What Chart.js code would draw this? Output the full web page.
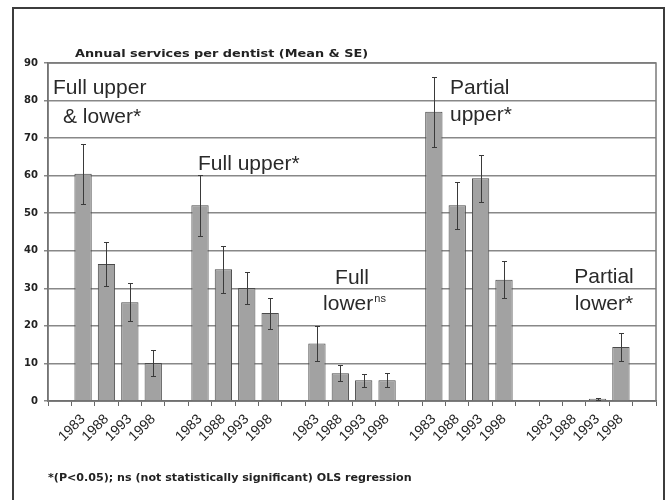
<!DOCTYPE html>
<html><head><meta charset="utf-8">
<script src="https://cdn.jsdelivr.net/npm/chart.js@4/dist/chart.umd.min.js"></script>
<style>
html,body{margin:0;padding:0;background:#fff;}
#wrap{position:relative;width:670px;height:500px;overflow:hidden;}
#frame{position:absolute;left:12px;top:7px;width:653px;height:510px;border:2px solid #3c3c3c;box-sizing:border-box;}
canvas{position:absolute;left:0;top:0;}
</style></head><body>
<div id="wrap"><div id="frame"></div><canvas id="c" width="670" height="500"></canvas></div>
<script>
// ---- data ----
const years = ['1983', '1988', '1993', '1998'];
const groupNames = ['Full upper & lower', 'Full upper', 'Full lower', 'Partial upper', 'Partial lower'];
const fullUpperLowerMean = [60.5, 36.5, 26.3, 10.1];
const fullUpperLowerSE   = [8.0, 5.8, 5.1, 3.4];
const fullUpperMean      = [52.1, 35.1, 30.1, 23.4];
const fullUpperSE        = [8.1, 6.3, 4.2, 4.1];
const fullLowerMean      = [15.3, 7.4, 5.5, 5.5];
const fullLowerSE        = [4.6, 2.2, 1.7, 1.9];
const partialUpperMean   = [77.0, 52.1, 59.3, 32.3];
const partialUpperSE     = [9.3, 6.2, 6.3, 4.9];
const partialLowerMean   = [0, 0, 0.6, 14.4];
const partialLowerSE     = [0, 0, 0.3, 3.7];
const yTickValues = [0, 10, 20, 30, 40, 50, 60, 70, 80, 90];
const chartTitle = 'Annual services per dentist (Mean & SE)';
const footnote = '*(P<0.05); ns (not statistically significant) OLS regression';

// ---- build category table (blank category between groups) ----
const groupMeans = [fullUpperLowerMean, fullUpperMean, fullLowerMean, partialUpperMean, partialLowerMean];
const groupSEs = [fullUpperLowerSE, fullUpperSE, fullLowerSE, partialUpperSE, partialLowerSE];
const labels = [''], means = [null], ses = [null];
groupMeans.forEach((g, gi) => {
  years.forEach((yr, i) => { labels.push(yr); means.push(g[i]); ses.push(groupSEs[gi][i]); });
  labels.push(''); means.push(null); ses.push(null);
});

const errorBars = {
  id: 'errorBars',
  afterDatasetsDraw(chart) {
    const ctx = chart.ctx, meta = chart.getDatasetMeta(0), y = chart.scales.y;
    ctx.save();
    ctx.strokeStyle = '#3a3a3a'; ctx.lineWidth = 1;
    meta.data.forEach((bar, i) => {
      const m = means[i], s = ses[i];
      if (m == null || !s) return;
      const t = Math.round(y.getPixelForValue(m + s)) + 0.5;
      const b = Math.round(y.getPixelForValue(m - s)) + 0.5;
      const x = Math.round(bar.x) + 0.5;
      ctx.beginPath();
      ctx.moveTo(x, t); ctx.lineTo(x, b);
      ctx.moveTo(x - 2.5, t); ctx.lineTo(x + 2.5, t);
      ctx.moveTo(x - 2.5, b); ctx.lineTo(x + 2.5, b);
      ctx.stroke();
    });
    ctx.restore();
  }
};

function stretchedText(ctx, text, x, y, sx) {
  ctx.save();
  ctx.translate(x, y);
  ctx.scale(sx, 1);
  ctx.fillText(text, 0, 0);
  ctx.restore();
}

const decorations = {
  id: 'decorations',
  beforeDatasetsDraw(chart) {
    const ctx = chart.ctx, a = chart.chartArea;
    ctx.save();
    ctx.strokeStyle = '#7a7a7a'; ctx.lineWidth = 1.5;
    ctx.strokeRect(a.left, a.top, a.right - a.left, a.bottom - a.top);
    ctx.restore();
  },
  afterDraw(chart) {
    const ctx = chart.ctx;
    ctx.save();
    ctx.fillStyle = '#222';
    ctx.textAlign = 'left'; ctx.textBaseline = 'alphabetic';
    ctx.font = 'bold 11px "DejaVu Sans"';
    stretchedText(ctx, chartTitle, 75, 57, 1.17);
    ctx.font = 'bold 10px "DejaVu Sans"';
    stretchedText(ctx, footnote, 48, 481, 1.11);

    ctx.fillStyle = '#2a2a2a';
    ctx.font = '21px "Liberation Sans", Arial';
    ctx.fillText('Full upper', 53, 94);
    ctx.fillText('& lower*', 63, 123);
    ctx.fillText('Full upper*', 198, 170);
    ctx.fillText('Partial', 450, 94);
    ctx.fillText('upper*', 450, 121);
    ctx.textAlign = 'center';
    ctx.fillText('Full', 352, 284);
    ctx.fillText('Partial', 604, 283);
    ctx.fillText('lower*', 604, 310);
    // lower with superscript ns
    const w1 = ctx.measureText('lower').width;
    ctx.font = '11px "Liberation Sans", Arial';
    const w2 = ctx.measureText('ns').width;
    const startX = 354 - (w1 + w2) / 2;
    ctx.textAlign = 'left';
    ctx.font = '21px "Liberation Sans", Arial';
    ctx.fillText('lower', startX, 310);
    ctx.font = '11px "Liberation Sans", Arial';
    ctx.fillText('ns', startX + w1 + 1, 302);
    ctx.restore();
  }
};

new Chart(document.getElementById('c'), {
  type: 'bar',
  data: {
    labels: labels,
    datasets: [{
      data: means,
      backgroundColor: '#a2a2a2',
      borderColor: '#4a4a4a',
      borderWidth: 1,
      barPercentage: 0.74,
      categoryPercentage: 1.0
    }]
  },
  options: {
    responsive: false,
    animation: false,
    layout: { padding: { left: 0, top: 63, right: 14, bottom: 0 } },
    plugins: { legend: { display: false }, tooltip: { enabled: false }, title: { display: false } },
    scales: {
      x: {
        afterFit(s) { s.height = 99; },
        grid: { offset: true, drawOnChartArea: false, drawTicks: true, tickLength: 5, color: '#666', lineWidth: 1 },
        border: { display: true, color: '#555', width: 1.5 },
        ticks: {
          autoSkip: false, minRotation: 45, maxRotation: 45, padding: 5,
          color: '#222', font: { family: '"Liberation Sans", Arial', size: 14 }
        }
      },
      y: {
        min: 0, max: 90,
        afterFit(s) { s.width = 48; },
        afterBuildTicks(s) { s.ticks = yTickValues.map(v => ({ value: v })); },
        grid: { color: '#888', lineWidth: 1.5, tickLength: 4 },
        border: { display: true, color: '#666', width: 1.5 },
        ticks: { padding: 6, color: '#222', font: { family: '"DejaVu Sans"', size: 10, weight: 'bold' } }
      }
    }
  },
  plugins: [errorBars, decorations]
});
</script>
</body></html>
